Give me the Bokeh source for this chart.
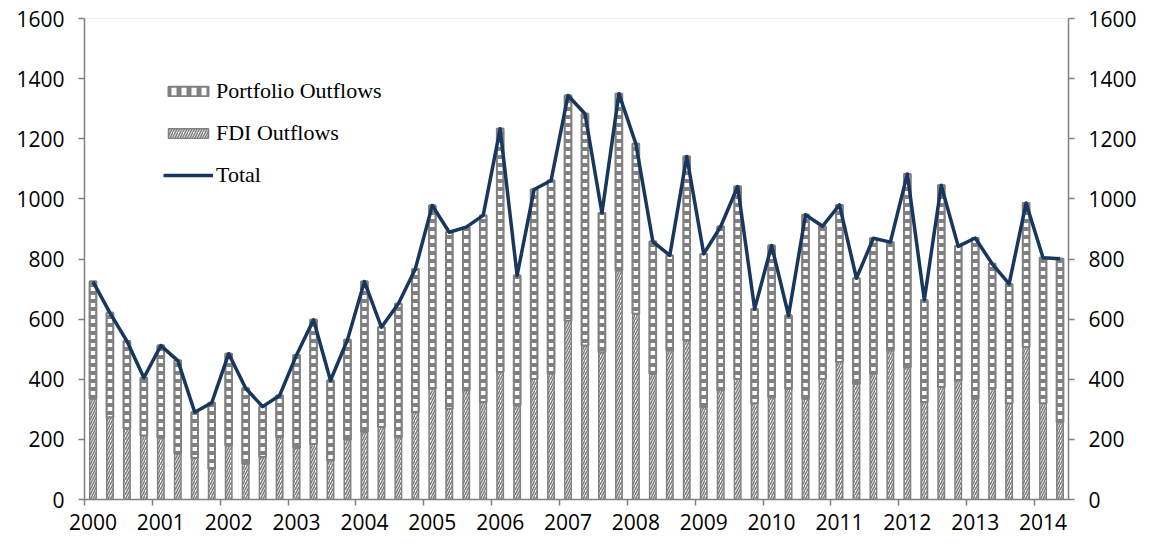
from bokeh.plotting import figure
from bokeh.models import (ColumnDataSource, LinearAxis, FixedTicker, Range1d,
                          Legend, LegendItem, Span)
from bokeh.embed import file_html
from bokeh.resources import INLINE

# ---------------- data ----------------
years = [str(y) for y in range(2000, 2015)]
quarters = [f"{y}Q{q}" for y in range(2000, 2015) for q in range(1, 5)][:58]

total = [725, 621, 527, 405, 512, 462, 290, 322, 485, 370, 309, 346,
         481, 598, 396, 531, 725, 573, 651, 767, 978, 889, 906, 945,
         1233, 745, 1031, 1061, 1344, 1283, 953, 1350, 1183, 858, 812, 1141,
         817, 908, 1041, 634, 845, 612, 947, 909, 980, 736, 869, 856,
         1083, 664, 1045, 842, 870, 784, 717, 986, 804, 801]

fdi = [335, 274, 235, 213, 205, 152, 138, 102, 180, 119, 141, 207,
       172, 185, 130, 200, 225, 241, 207, 290, 368, 302, 363, 324,
       424, 313, 401, 418, 595, 512, 490, 762, 618, 418, 496, 529,
       307, 363, 401, 320, 340, 368, 335, 401, 457, 385, 418, 496,
       440, 324, 374, 396, 335, 368, 320, 507, 320, 257]

x = list(range(len(quarters)))
src = ColumnDataSource(dict(x=x, fdi=fdi, total=total, q=quarters))

GRAY = "#808080"
NAVY = "#17375E"
TICK_FONT = "Open Sans"

p = figure(width=1151, height=546, output_backend="svg", toolbar_location=None,
           x_range=Range1d(-0.5, len(quarters) - 0.5), y_range=Range1d(0, 1600),
           min_border_left=84, min_border_right=83, min_border_top=18,
           min_border_bottom=47, x_axis_location=None, y_axis_location=None)
p.outline_line_color = None
p.xgrid.visible = False
p.ygrid.visible = False

bar_w = 0.38

# legend swatch for portfolio (hidden under the real portfolio bars)
port_leg = p.vbar(x="x", width=bar_w, bottom="fdi", top="total", source=src,
                  fill_color="white", line_color=GRAY, line_width=2,
                  hatch_pattern="vertical_line", hatch_color=GRAY,
                  hatch_scale=10, hatch_weight=5)

# bars: FDI at the bottom, portfolio stacked on top
fdi_r = p.vbar(x="x", width=bar_w, bottom=0, top="fdi", source=src,
               fill_color="white", line_color=GRAY, line_width=1.5,
               hatch_pattern="right_diagonal_line", hatch_color=GRAY,
               hatch_scale=5, hatch_weight=1.6)
port_r = p.vbar(x="x", width=bar_w, bottom="fdi", top="total", source=src,
                fill_color="white", line_color=GRAY, line_width=2,
                hatch_pattern="horizontal_line", hatch_color=GRAY,
                hatch_scale=8, hatch_weight=4)
line_r = p.line(x="x", y="total", source=src, line_color=NAVY, line_width=3.5,
                line_join="round")

# top border line
p.add_layout(Span(location=1600, dimension="width", line_color="#D9D9D9", line_width=1))

# axes
yt = FixedTicker(ticks=list(range(0, 1601, 200)))
for side in ("left", "right"):
    ax = LinearAxis(ticker=yt)
    ax.axis_line_color = GRAY
    ax.axis_line_width = 1.5
    ax.major_tick_line_color = GRAY
    ax.major_tick_line_width = 1.5
    ax.major_tick_out = 6
    ax.major_tick_in = 0
    ax.minor_tick_line_color = None
    ax.major_label_text_font = TICK_FONT
    ax.major_label_text_font_size = "21px"
    ax.major_label_text_color = "black"
    ax.major_label_standoff = 14
    p.add_layout(ax, side)

label_pos = [i * 4 for i in range(len(years))]
bounds = [i * 4 - 0.5 for i in range(len(years) + 1) if i * 4 - 0.5 <= len(quarters) - 0.5]
xax = LinearAxis(ticker=FixedTicker(ticks=label_pos, minor_ticks=bounds))
xax.major_label_overrides = {pos: yr for pos, yr in zip(label_pos, years)}
xax.axis_line_color = GRAY
xax.axis_line_width = 1.5
xax.major_tick_line_color = None
xax.major_tick_out = 0
xax.major_tick_in = 0
xax.minor_tick_line_color = GRAY
xax.minor_tick_line_width = 1.5
xax.minor_tick_out = 6
xax.minor_tick_in = 0
xax.major_label_text_font = TICK_FONT
xax.major_label_text_font_size = "21px"
xax.major_label_text_color = "black"
xax.major_label_standoff = 8
p.add_layout(xax, "below")

legend = Legend(items=[
    LegendItem(label="Portfolio Outflows", renderers=[port_leg]),
    LegendItem(label="FDI Outflows", renderers=[fdi_r]),
    LegendItem(label="Total", renderers=[line_r]),
], location=(79, 311))
legend.border_line_color = None
legend.background_fill_alpha = 0
legend.padding = 0
legend.margin = 0
legend.spacing = 16
legend.glyph_width = 50
legend.glyph_height = 12
legend.label_height = 24
legend.label_standoff = 3
legend.label_text_font = "Liberation Serif"
legend.label_text_font_size = "22px"
legend.label_text_color = "black"
p.add_layout(legend, "center")

open("out.html", "w").write(file_html(p, INLINE))
